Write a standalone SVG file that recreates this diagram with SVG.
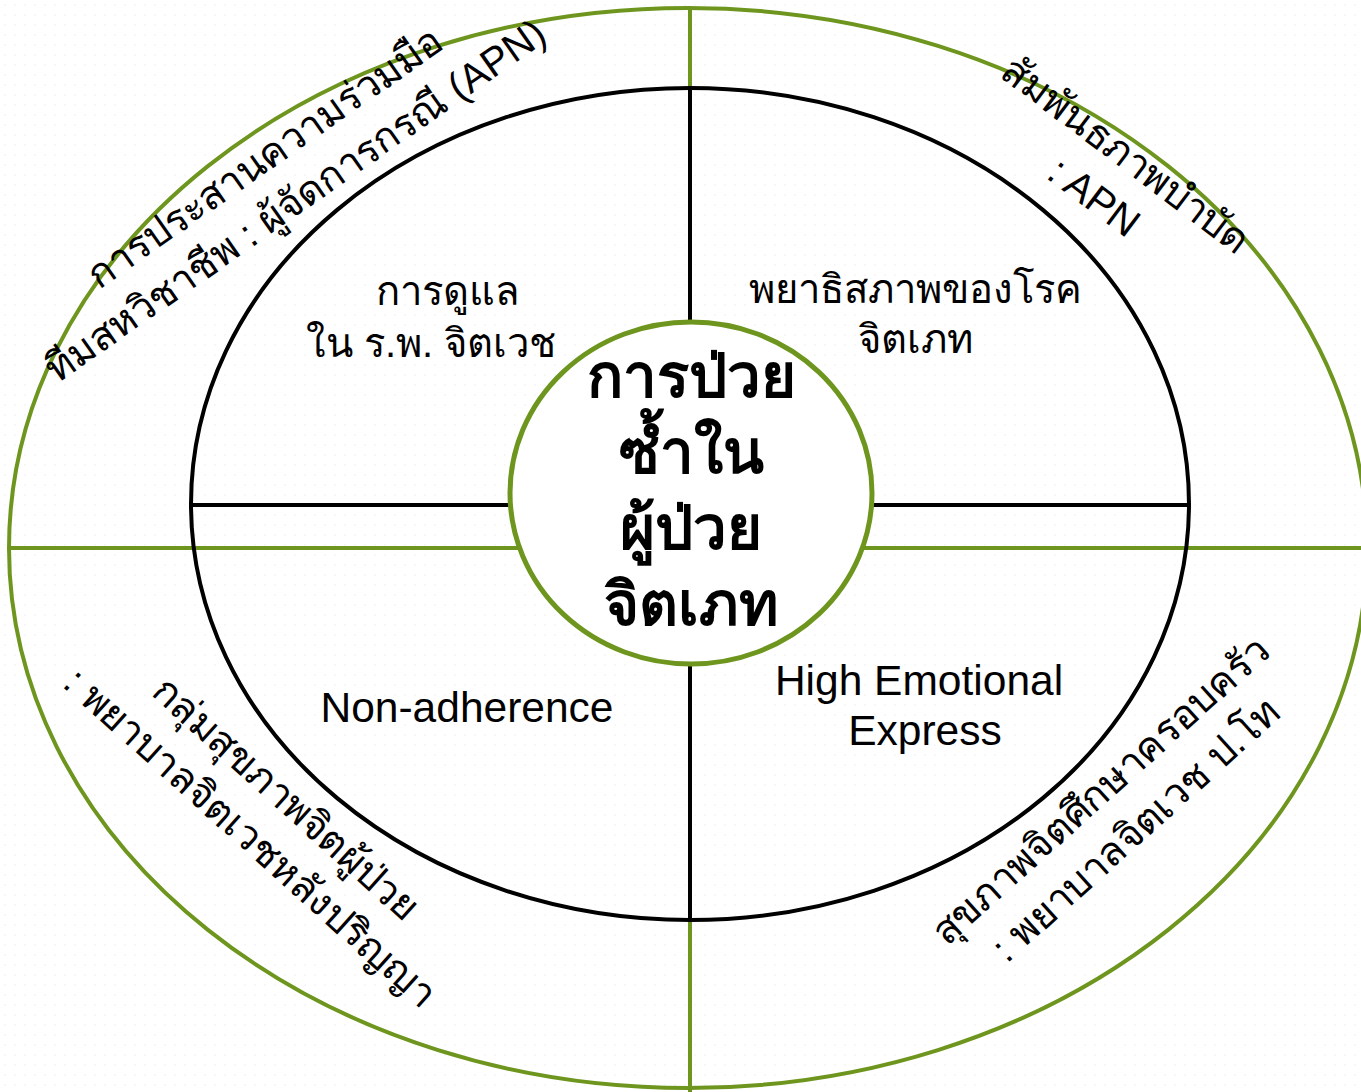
<svg xmlns="http://www.w3.org/2000/svg" width="1361" height="1092" viewBox="0 0 1361 1092">
<style>
.g{fill:none;stroke:#6e961e;stroke-width:4}
.k{fill:none;stroke:#000;stroke-width:4}
.t{font-family:"Liberation Sans",sans-serif;font-size:40px;fill:#000;text-anchor:middle}
.e{font-family:"Liberation Sans",sans-serif;font-size:42.5px;fill:#000;text-anchor:middle}
.c{font-family:"Liberation Sans",sans-serif;font-size:60px;font-weight:bold;fill:#000;text-anchor:middle}
</style>
<defs>
<pattern id="dots" width="10" height="10" patternUnits="userSpaceOnUse">
<circle cx="5" cy="5" r="0.8" fill="#ececec"/>
</pattern>
</defs>
<rect width="1361" height="1092" fill="#fff"/>
<rect width="1361" height="1092" fill="url(#dots)"/>
<g id="connectors">
<line class="g" x1="690" y1="8" x2="690" y2="1092"/>
<line class="g" x1="10" y1="548" x2="1361" y2="548"/>
<line class="k" x1="192" y1="505" x2="515" y2="505"/>
<line class="k" x1="868" y1="505" x2="1188" y2="505"/>
<line class="k" x1="690" y1="88" x2="690" y2="330"/>
<line class="k" x1="690" y1="658" x2="690" y2="920"/>
</g>
<g id="outer-ring">
<ellipse class="g" cx="688" cy="548" rx="679" ry="540"/>
</g>
<g id="inner-ring">
<ellipse class="k" cx="690" cy="504" rx="499" ry="416"/>
</g>
<g id="center">
<ellipse cx="691" cy="493" rx="181" ry="171" fill="#fff" stroke="#6e961e" stroke-width="5"/>
<text class="c" x="691" y="397">การป่วย</text>
<text class="c" x="691" y="473">ซ้ำใน</text>
<text class="c" x="691" y="549">ผู้ป่วย</text>
<text class="c" x="691" y="625">จิตเภท</text>
</g>
<g id="q-top-left">
<text class="t" x="448" y="305">การดูแล</text>
<text class="t" x="431" y="357">ใน ร.พ. จิตเวช</text>
</g>
<g id="q-top-right">
<text class="t" x="915" y="303">พยาธิสภาพของโรค</text>
<text class="t" x="915" y="353">จิตเภท</text>
</g>
<g id="q-bottom-left">
<text class="e" x="467" y="722">Non-adherence</text>
</g>
<g id="q-bottom-right">
<text class="e" x="919" y="695">High Emotional</text>
<text class="e" x="925" y="745">Express</text>
</g>
<g id="ring-top-left" transform="translate(280,179) rotate(-35)">
<text class="t" x="0" y="-13">การประสานความร่วมมือ</text>
<text class="t" x="0" y="40">ทีมสหวิชาชีพ : ผู้จัดการกรณี (APN)</text>
</g>
<g id="ring-top-right" transform="translate(1110,176) rotate(37)">
<text class="t" x="0" y="-13">สัมพันธภาพบำบัด</text>
<text class="t" x="0" y="40">: APN</text>
</g>
<g id="ring-bottom-left" transform="translate(268,818) rotate(42)">
<text class="t" x="0" y="-13">กลุ่มสุขภาพจิตผู้ป่วย</text>
<text class="t" x="0" y="40">: พยาบาลจิตเวชหลังปริญญา</text>
</g>
<g id="ring-bottom-right" transform="translate(1118,810) rotate(-42)">
<text class="t" x="0" y="-13">สุขภาพจิตศึกษาครอบครัว</text>
<text class="t" x="0" y="40">: พยาบาลจิตเวช ป.โท</text>
</g>
</svg>
